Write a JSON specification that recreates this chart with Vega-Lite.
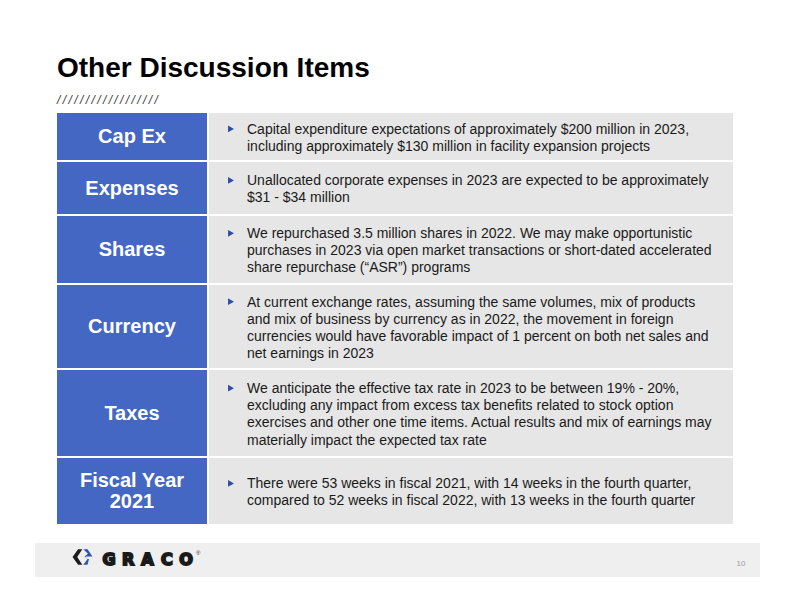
{
  "$schema": "https://vega.github.io/schema/vega-lite/v6.json",
  "padding": {"left": 35, "top": 55, "right": 0, "bottom": 0},
  "background": "white",
  "title": {
    "text": "Other Discussion Items",
    "subtitle": "/\u2009/\u2009/\u2009/\u2009/\u2009/\u2009/\u2009/\u2009/\u2009/\u2009/\u2009/\u2009/\u2009/\u2009/\u2009/\u2009/\u2009/",
    "anchor": "start",
    "frame": "group",
    "dx": 22,
    "font": "Liberation Sans",
    "fontSize": 28,
    "fontWeight": "bold",
    "color": "#000000",
    "subtitleFont": "Liberation Sans",
    "subtitleFontStyle": "italic",
    "subtitleFontSize": 12,
    "subtitleColor": "#3a3a3a",
    "subtitlePadding": 12,
    "offset": 6
  },
  "datasets": {
    "rows": [
      {"id": 1, "label": ["Cap Ex"], "text": ["Capital expenditure expectations of approximately $200 million in 2023,", "including approximately $130 million in facility expansion projects"]},
      {"id": 2, "label": ["Expenses"], "text": ["Unallocated corporate expenses in 2023 are expected to be approximately", "$31 - $34 million"]},
      {"id": 3, "label": ["Shares"], "text": ["We repurchased 3.5 million shares in 2022.  We may make opportunistic", "purchases in 2023 via open market transactions or short-dated accelerated", "share repurchase (“ASR”) programs"]},
      {"id": 4, "label": ["Currency"], "text": ["At current exchange rates, assuming the same volumes, mix of products", "and mix of business by currency as in 2022, the movement in foreign", "currencies would have favorable impact of 1 percent on both net sales and", "net earnings in 2023"]},
      {"id": 5, "label": ["Taxes"], "text": ["We anticipate the effective tax rate in 2023 to be between 19% - 20%,", "excluding any impact from excess tax benefits related to stock option", "exercises and other one time items. Actual results and mix of earnings may", "materially impact the expected tax rate"]},
      {"id": 6, "label": ["Fiscal Year", "2021"], "text": ["There were 53 weeks in fiscal 2021, with 14 weeks in the fourth quarter,", "compared to 52 weeks in fiscal 2022, with 13 weeks in the fourth quarter"]}
    ],
    "logo": [{"part": "dark"}, {"part": "blue"}],
    "letters": [{"letter": "G"}, {"letter": "R"}, {"letter": "A"}, {"letter": "C"}, {"letter": "O"}]
  },
  "spacing": 19,
  "vconcat": [
    {
      "spacing": 2,
      "hconcat": [
        {"width": 20, "height": 10, "data": {"values": [{}]}, "mark": {"type": "text"}, "encoding": {"text": {"value": ""}}},
        {
          "spacing": 2,
          "vconcat": [
            {"width": 150, "height": 47, "view": {"fill": "#4467c4", "stroke": null}, "data": {"name": "rows"}, "transform": [{"filter": "datum.id == 1"}], "mark": {"type": "text", "color": "white", "font": "Liberation Sans", "fontWeight": "bold", "fontSize": 20, "lineHeight": 21, "baseline": "middle", "align": "center", "dy": {"expr": "0.5 - (length(datum.label) - 1) * 10.5"}}, "encoding": {"text": {"field": "label", "type": "nominal"}}},
            {"width": 150, "height": 52, "view": {"fill": "#4467c4", "stroke": null}, "data": {"name": "rows"}, "transform": [{"filter": "datum.id == 2"}], "mark": {"type": "text", "color": "white", "font": "Liberation Sans", "fontWeight": "bold", "fontSize": 20, "lineHeight": 21, "baseline": "middle", "align": "center", "dy": {"expr": "0.5 - (length(datum.label) - 1) * 10.5"}}, "encoding": {"text": {"field": "label", "type": "nominal"}}},
            {"width": 150, "height": 67, "view": {"fill": "#4467c4", "stroke": null}, "data": {"name": "rows"}, "transform": [{"filter": "datum.id == 3"}], "mark": {"type": "text", "color": "white", "font": "Liberation Sans", "fontWeight": "bold", "fontSize": 20, "lineHeight": 21, "baseline": "middle", "align": "center", "dy": {"expr": "0.5 - (length(datum.label) - 1) * 10.5"}}, "encoding": {"text": {"field": "label", "type": "nominal"}}},
            {"width": 150, "height": 83, "view": {"fill": "#4467c4", "stroke": null}, "data": {"name": "rows"}, "transform": [{"filter": "datum.id == 4"}], "mark": {"type": "text", "color": "white", "font": "Liberation Sans", "fontWeight": "bold", "fontSize": 20, "lineHeight": 21, "baseline": "middle", "align": "center", "dy": {"expr": "0.5 - (length(datum.label) - 1) * 10.5"}}, "encoding": {"text": {"field": "label", "type": "nominal"}}},
            {"width": 150, "height": 86, "view": {"fill": "#4467c4", "stroke": null}, "data": {"name": "rows"}, "transform": [{"filter": "datum.id == 5"}], "mark": {"type": "text", "color": "white", "font": "Liberation Sans", "fontWeight": "bold", "fontSize": 20, "lineHeight": 21, "baseline": "middle", "align": "center", "dy": {"expr": "0.5 - (length(datum.label) - 1) * 10.5"}}, "encoding": {"text": {"field": "label", "type": "nominal"}}},
            {"width": 150, "height": 66, "view": {"fill": "#4467c4", "stroke": null}, "data": {"name": "rows"}, "transform": [{"filter": "datum.id == 6"}], "mark": {"type": "text", "color": "white", "font": "Liberation Sans", "fontWeight": "bold", "fontSize": 20, "lineHeight": 21, "baseline": "middle", "align": "center", "dy": {"expr": "0.5 - (length(datum.label) - 1) * 10.5"}}, "encoding": {"text": {"field": "label", "type": "nominal"}}}
          ]
        },
        {
          "spacing": 2,
          "vconcat": [
            {"width": 524, "height": 47, "view": {"fill": "#e6e6e6", "stroke": null}, "data": {"name": "rows"}, "transform": [{"filter": "datum.id == 1"}], "layer": [
              {"mark": {"type": "point", "shape": "triangle-right", "filled": true, "size": 46, "color": "#2c4ca8", "opacity": 1, "yOffset": {"expr": "1 - (length(datum.text) - 1) * 8.6"}}, "encoding": {"x": {"value": 22}}},
              {"mark": {"type": "text", "align": "left", "baseline": "middle", "font": "Liberation Sans", "fontSize": 14, "lineHeight": 17.2, "color": "#1a1a1a", "dy": {"expr": "1.8 - (length(datum.text) - 1) * 8.6"}}, "encoding": {"x": {"value": 38}, "text": {"field": "text", "type": "nominal"}}}
            ]},
            {"width": 524, "height": 52, "view": {"fill": "#e6e6e6", "stroke": null}, "data": {"name": "rows"}, "transform": [{"filter": "datum.id == 2"}], "layer": [
              {"mark": {"type": "point", "shape": "triangle-right", "filled": true, "size": 46, "color": "#2c4ca8", "opacity": 1, "yOffset": {"expr": "1 - (length(datum.text) - 1) * 8.6"}}, "encoding": {"x": {"value": 22}}},
              {"mark": {"type": "text", "align": "left", "baseline": "middle", "font": "Liberation Sans", "fontSize": 14, "lineHeight": 17.2, "color": "#1a1a1a", "dy": {"expr": "1.8 - (length(datum.text) - 1) * 8.6"}}, "encoding": {"x": {"value": 38}, "text": {"field": "text", "type": "nominal"}}}
            ]},
            {"width": 524, "height": 67, "view": {"fill": "#e6e6e6", "stroke": null}, "data": {"name": "rows"}, "transform": [{"filter": "datum.id == 3"}], "layer": [
              {"mark": {"type": "point", "shape": "triangle-right", "filled": true, "size": 46, "color": "#2c4ca8", "opacity": 1, "yOffset": {"expr": "1 - (length(datum.text) - 1) * 8.6"}}, "encoding": {"x": {"value": 22}}},
              {"mark": {"type": "text", "align": "left", "baseline": "middle", "font": "Liberation Sans", "fontSize": 14, "lineHeight": 17.2, "color": "#1a1a1a", "dy": {"expr": "1.8 - (length(datum.text) - 1) * 8.6"}}, "encoding": {"x": {"value": 38}, "text": {"field": "text", "type": "nominal"}}}
            ]},
            {"width": 524, "height": 83, "view": {"fill": "#e6e6e6", "stroke": null}, "data": {"name": "rows"}, "transform": [{"filter": "datum.id == 4"}], "layer": [
              {"mark": {"type": "point", "shape": "triangle-right", "filled": true, "size": 46, "color": "#2c4ca8", "opacity": 1, "yOffset": {"expr": "1 - (length(datum.text) - 1) * 8.6"}}, "encoding": {"x": {"value": 22}}},
              {"mark": {"type": "text", "align": "left", "baseline": "middle", "font": "Liberation Sans", "fontSize": 14, "lineHeight": 17.2, "color": "#1a1a1a", "dy": {"expr": "1.8 - (length(datum.text) - 1) * 8.6"}}, "encoding": {"x": {"value": 38}, "text": {"field": "text", "type": "nominal"}}}
            ]},
            {"width": 524, "height": 86, "view": {"fill": "#e6e6e6", "stroke": null}, "data": {"name": "rows"}, "transform": [{"filter": "datum.id == 5"}], "layer": [
              {"mark": {"type": "point", "shape": "triangle-right", "filled": true, "size": 46, "color": "#2c4ca8", "opacity": 1, "yOffset": {"expr": "1 - (length(datum.text) - 1) * 8.6"}}, "encoding": {"x": {"value": 22}}},
              {"mark": {"type": "text", "align": "left", "baseline": "middle", "font": "Liberation Sans", "fontSize": 14, "lineHeight": 17.2, "color": "#1a1a1a", "dy": {"expr": "1.8 - (length(datum.text) - 1) * 8.6"}}, "encoding": {"x": {"value": 38}, "text": {"field": "text", "type": "nominal"}}}
            ]},
            {"width": 524, "height": 66, "view": {"fill": "#e6e6e6", "stroke": null}, "data": {"name": "rows"}, "transform": [{"filter": "datum.id == 6"}], "layer": [
              {"mark": {"type": "point", "shape": "triangle-right", "filled": true, "size": 46, "color": "#2c4ca8", "opacity": 1, "yOffset": {"expr": "1 - (length(datum.text) - 1) * 8.6"}}, "encoding": {"x": {"value": 22}}},
              {"mark": {"type": "text", "align": "left", "baseline": "middle", "font": "Liberation Sans", "fontSize": 14, "lineHeight": 17.2, "color": "#1a1a1a", "dy": {"expr": "1.8 - (length(datum.text) - 1) * 8.6"}}, "encoding": {"x": {"value": 38}, "text": {"field": "text", "type": "nominal"}}}
            ]}
          ]
        }
      ]
    },
    {
      "width": 725,
      "height": 34,
      "view": {"fill": "#efefef", "stroke": null},
      "layer": [
        {
          "data": {"name": "logo"},
          "mark": {"type": "point", "filled": true, "size": 441, "opacity": 1, "strokeWidth": 0},
          "encoding": {
            "x": {"value": 47.5},
            "y": {"value": 14},
            "shape": {"field": "part", "type": "nominal", "legend": null, "scale": {"domain": ["dark", "blue"], "range": ["M -0.02 -0.74 L -0.42 -0.74 L -0.95 0 L -0.42 0.74 L -0.02 0.74 L -0.5 0 Z", "M 0.08 -0.74 L 0.48 -0.74 L 0.95 -0.05 L 0.3 -0.05 L 0.42 0.18 L 0.62 0.18 L 0.48 0.74 L 0.08 0.74 L 0.48 0.18 L 0.2 -0.05 L 0.52 -0.3 Z"]}},
            "color": {"field": "part", "type": "nominal", "legend": null, "scale": {"domain": ["dark", "blue"], "range": ["#1c1c1c", "#2c54b0"]}}
          }
        },
        {
          "data": {"name": "letters"},
          "mark": {"type": "text", "font": "DejaVu Sans", "fontWeight": "bold", "fontSize": 16, "baseline": "middle", "align": "center", "color": "#1a1a1a", "stroke": "#1a1a1a", "strokeWidth": 1.9},
          "encoding": {
            "x": {"field": "letter", "type": "nominal", "sort": null, "axis": null, "scale": {"type": "point", "domain": ["G", "R", "A", "C", "O"], "range": [74, 151], "padding": 0}},
            "y": {"value": 16.5},
            "text": {"field": "letter", "type": "nominal"}
          }
        },
        {
          "data": {"values": [{"mark": "®"}]},
          "mark": {"type": "text", "font": "Liberation Sans", "fontSize": 6, "baseline": "middle", "align": "left", "color": "#333333"},
          "encoding": {"x": {"value": 161}, "y": {"value": 10}, "text": {"field": "mark", "type": "nominal"}}
        },
        {
          "data": {"values": [{"page": "10"}]},
          "mark": {"type": "text", "font": "Liberation Sans", "fontSize": 8, "baseline": "middle", "align": "center", "color": "#9a9a9a"},
          "encoding": {"x": {"value": 706}, "y": {"value": 21}, "text": {"field": "page", "type": "nominal"}}
        }
      ]
    }
  ],
  "config": {"view": {"stroke": null}, "axis": {"disable": true}}
}
